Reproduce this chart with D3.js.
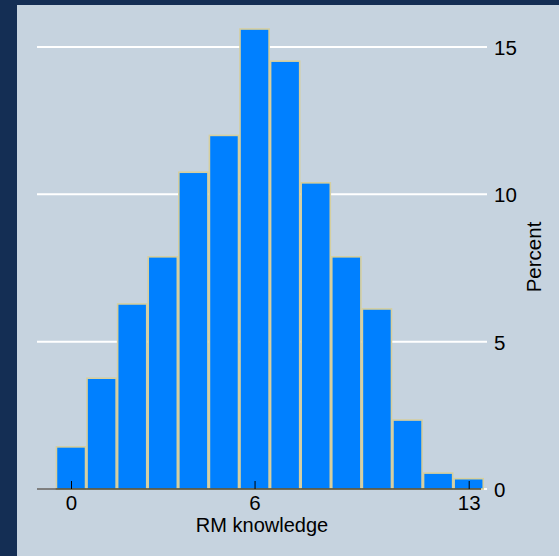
<!DOCTYPE html>
<html>
<head>
<meta charset="utf-8">
<script src="https://cdn.jsdelivr.net/npm/d3@7"></script>
<style>
  html, body { margin: 0; padding: 0; background: #c6d3df; }
  svg { display: block; }
</style>
</head>
<body>
<svg id="chart" width="559" height="556"></svg>
<script>
// Histogram of RM knowledge scores (percent of respondents per score)
const scores   = [0, 1, 2, 3, 4, 5, 6, 7, 8, 9, 10, 11, 12, 13];
const percents = [1.43, 3.76, 6.28, 7.88, 10.75, 12.0, 15.61, 14.52, 10.39, 7.88, 6.11, 2.34, 0.54, 0.35];
const xTicks   = [0, 6, 13];
const yTicks   = [0, 5, 10, 15];
const xTitle   = "RM knowledge";
const yTitle   = "Percent";

const svg = d3.select("#chart");
const W = 559, H = 556;

// Outer frame: dark strips along top and left edges
svg.append("rect").attr("width", W).attr("height", H).attr("fill", "#142e54");
svg.append("rect").attr("x", 17).attr("y", 5).attr("width", W - 17).attr("height", H - 5)
  .attr("fill", "#c6d3df");

const plotLeft = 37, plotRight = 487;
const x = d3.scaleLinear().domain([0, 13]).range([71, 468.7]);
const y = d3.scaleLinear().domain([0, 15]).range([489, 47]);

const font = "'Liberation Sans', Arial, sans-serif";

// Horizontal gridlines
svg.append("g").selectAll("line")
  .data(yTicks)
  .join("line")
  .attr("x1", plotLeft).attr("x2", plotRight)
  .attr("y1", d => y(d)).attr("y2", d => y(d))
  .attr("stroke", "#ffffff").attr("stroke-width", 2);

// Bars
svg.append("g").selectAll("rect")
  .data(scores.map((s, i) => ({ s, p: percents[i] })))
  .join("rect")
  .attr("x", d => x(d.s - 0.5) + 0.75)
  .attr("width", d => x(d.s + 0.5) - x(d.s - 0.5) - 1.5)
  .attr("y", d => y(d.p))
  .attr("height", d => y(0) - y(d.p))
  .attr("fill", "#0080ff")
  .attr("stroke", "#d6cf9e")
  .attr("stroke-width", 1.6);

// X axis line with inward ticks
svg.append("line")
  .attr("x1", plotLeft).attr("x2", 481)
  .attr("y1", y(0)).attr("y2", y(0))
  .attr("stroke", "#000000").attr("stroke-width", 1.2);

const xAxis = d3.axisBottom(x).tickValues(xTicks).tickSize(-8).tickPadding(17).tickFormat(d3.format("d"));
const gx = svg.append("g").attr("transform", `translate(0,${y(0)})`).call(xAxis);
gx.select(".domain").remove();
gx.selectAll(".tick line").attr("stroke", "#000000").attr("stroke-width", 1);
gx.selectAll(".tick text")
  .attr("font-family", font).attr("font-size", 20.5).attr("fill", "#000000")
  .attr("dy", "0.35em").attr("y", 14);

// Right-hand Y axis labels (no axis line)
const yAxis = d3.axisRight(y).tickValues(yTicks).tickSize(0).tickPadding(0).tickFormat(d3.format("d"));
const gy = svg.append("g").attr("transform", `translate(494,0)`).call(yAxis);
gy.select(".domain").remove();
gy.selectAll(".tick text")
  .attr("font-family", font).attr("font-size", 20.5).attr("fill", "#000000")
  .attr("text-anchor", "start").attr("x", 0).attr("dy", "0.36em");

// Axis titles
svg.append("text")
  .attr("x", 262).attr("y", 532)
  .attr("text-anchor", "middle")
  .attr("font-family", font).attr("font-size", 20).attr("fill", "#000000")
  .text(xTitle);

svg.append("text")
  .attr("transform", "translate(541,257) rotate(-90)")
  .attr("text-anchor", "middle")
  .attr("font-family", font).attr("font-size", 20.5).attr("fill", "#000000")
  .text(yTitle);
</script>
</body>
</html>
